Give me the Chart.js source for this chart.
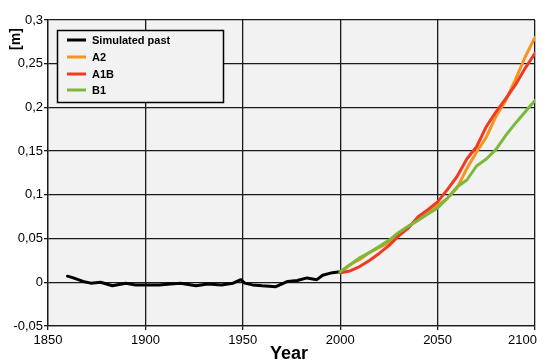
<!DOCTYPE html>
<html>
<head>
<meta charset="utf-8">
<script src="https://cdn.jsdelivr.net/npm/chart.js@4"></script>
<style>
  body { margin: 0; background: #fff; }
  #wrap { width: 546px; height: 360px; }
</style>
</head>
<body>
<div id="wrap"><canvas id="seaChart" width="546" height="360"></canvas></div>
<script>
// simulated past
var pastYears = [1860, 1863, 1868, 1872, 1877, 1883, 1890, 1895, 1899, 1907, 1913, 1918, 1926, 1932, 1939, 1945, 1949, 1951, 1955, 1960, 1967, 1973, 1978, 1983, 1988, 1991, 1996, 2000];
var pastValues = [0.007, 0.005, 0.001, -0.001, 0, -0.004, -0.001, -0.003, -0.003, -0.003, -0.002, -0.001, -0.004, -0.002, -0.003, -0.001, 0.003, -0.001, -0.003, -0.004, -0.005, 0.001, 0.002, 0.005, 0.003, 0.008, 0.011, 0.012];

// scenarios
var futureYears = [2000, 2005, 2010, 2015, 2020, 2025, 2030, 2035, 2040, 2045, 2050, 2055, 2060, 2065, 2070, 2075, 2080, 2085, 2090, 2095, 2100];
var a2Values  = [0.011, 0.020, 0.026, 0.034, 0.040, 0.045, 0.056, 0.064, 0.071, 0.079, 0.088, 0.096, 0.108, 0.130, 0.149, 0.166, 0.190, 0.208, 0.232, 0.258, 0.280];
var a1bValues = [0.011, 0.013, 0.018, 0.025, 0.033, 0.042, 0.053, 0.062, 0.075, 0.083, 0.092, 0.106, 0.121, 0.141, 0.155, 0.178, 0.195, 0.210, 0.226, 0.245, 0.262];
var b1Values  = [0.012, 0.020, 0.028, 0.034, 0.041, 0.048, 0.057, 0.064, 0.071, 0.078, 0.085, 0.096, 0.109, 0.117, 0.133, 0.141, 0.152, 0.168, 0.182, 0.195, 0.208];

var seriesNames = ['Simulated past', 'A2', 'A1B', 'B1'];
var seriesColors = ['#000000', '#f7941e', '#ee3b24', '#7cb83a'];

var xTicks = [1850, 1900, 1950, 2000, 2050, 2100];
var yTicks = [-0.05, 0, 0.05, 0.1, 0.15, 0.2, 0.25, 0.3];

function toPoints(xs, ys) {
    return xs.map(function (x, i) { return { x: x, y: ys[i] }; });
}

function fmtComma(v) {
    return parseFloat(v.toFixed(2)).toString().replace('.', ',');
}

// grey plot background, and keep the last year label inside the canvas
var plotBg = {
    id: 'plotBg',
    beforeDraw: function (chart) {
        var a = chart.chartArea, ctx = chart.ctx;
        ctx.save();
        ctx.fillStyle = '#f2f2f2';
        ctx.fillRect(a.left, a.top, a.right - a.left, a.bottom - a.top);
        ctx.restore();

        var items = chart.scales.x.getLabelItems(a);
        var last = items[items.length - 1];
        if (last && last.options.textAlign !== 'right') {
            last.options.textAlign = 'right';
            last.options.translation[0] += 2;
        }
    }
};

// legend box and axis titles
var extras = {
    id: 'extras',
    afterDraw: function (chart) {
        var ctx = chart.ctx;
        ctx.save();
        ctx.fillStyle = '#f2f2f2';
        ctx.fillRect(57.5, 30.5, 166, 72);
        ctx.strokeStyle = '#000';
        ctx.lineWidth = 1.5;
        ctx.strokeRect(57.5, 30.5, 166, 72);
        var rows = [40, 57, 74, 90];
        ctx.font = 'bold 11px "Liberation Sans", Arial, sans-serif';
        ctx.textBaseline = 'middle';
        ctx.textAlign = 'left';
        seriesNames.forEach(function (name, i) {
            ctx.strokeStyle = seriesColors[i];
            ctx.lineWidth = 3;
            ctx.beginPath();
            ctx.moveTo(67, rows[i]);
            ctx.lineTo(86, rows[i]);
            ctx.stroke();
            ctx.fillStyle = '#000';
            ctx.fillText(name, 92, rows[i] + 1);
        });

        // x title
        ctx.font = 'bold 18px "Liberation Sans", Arial, sans-serif';
        ctx.textAlign = 'center';
        ctx.textBaseline = 'alphabetic';
        ctx.fillText('Year', 289, 359);

        // y title
        ctx.translate(16, 39);
        ctx.rotate(-Math.PI / 2);
        ctx.font = 'bold 14px "Liberation Sans", Arial, sans-serif';
        ctx.textBaseline = 'middle';
        ctx.fillText('[m]', 0, 0);
        ctx.restore();
    }
};

var ctx = document.getElementById('seaChart').getContext('2d');
var seaChart = new Chart(ctx, {
    type: 'line',
    data: {
        datasets: [
            { label: seriesNames[0], data: toPoints(pastYears, pastValues), borderColor: seriesColors[0], order: 3 },
            { label: seriesNames[1], data: toPoints(futureYears, a2Values), borderColor: seriesColors[1], order: 2 },
            { label: seriesNames[2], data: toPoints(futureYears, a1bValues), borderColor: seriesColors[2], order: 1 },
            { label: seriesNames[3], data: toPoints(futureYears, b1Values), borderColor: seriesColors[3], order: 0 }
        ]
    },
    options: {
        responsive: false,
        animation: false,
        layout: { padding: { top: 20, right: 11, left: 0, bottom: 0 } },
        elements: {
            line: { borderWidth: 3, tension: 0, fill: false, borderJoinStyle: 'round', borderCapStyle: 'round' },
            point: { radius: 0, hoverRadius: 0 }
        },
        plugins: {
            legend: { display: false },
            tooltip: { enabled: false }
        },
        scales: {
            x: {
                type: 'linear',
                min: 1850,
                max: 2100,
                afterFit: function (scale) {
                    scale.height = 34;
                    scale.paddingLeft = 0;
                    scale.paddingRight = 0;
                },
                afterBuildTicks: function (scale) {
                    scale.ticks = xTicks.map(function (v) { return { value: v }; });
                },
                grid: { color: '#1a1a1a', lineWidth: 1.3, tickLength: 4, tickColor: '#1a1a1a' },
                border: { color: '#1a1a1a', width: 1.3 },
                ticks: {
                    color: '#000',
                    padding: 3,
                    maxRotation: 0,
                    font: { family: '"Liberation Sans", Arial, sans-serif', size: 13 },
                    callback: function (v) { return String(v); }
                }
            },
            y: {
                min: -0.05,
                max: 0.3,
                afterFit: function (scale) {
                    scale.width = 48;
                    scale.paddingTop = 0;
                    scale.paddingBottom = 0;
                },
                afterBuildTicks: function (scale) {
                    scale.ticks = yTicks.map(function (v) { return { value: v }; });
                },
                grid: { color: '#1a1a1a', lineWidth: 1.3, tickLength: 4, tickColor: '#1a1a1a' },
                border: { color: '#1a1a1a', width: 1.3 },
                ticks: {
                    color: '#000',
                    padding: 1,
                    font: { family: '"Liberation Sans", Arial, sans-serif', size: 13 },
                    callback: function (v) { return fmtComma(v); }
                }
            }
        }
    },
    plugins: [plotBg, extras]
});
</script>
</body>
</html>
